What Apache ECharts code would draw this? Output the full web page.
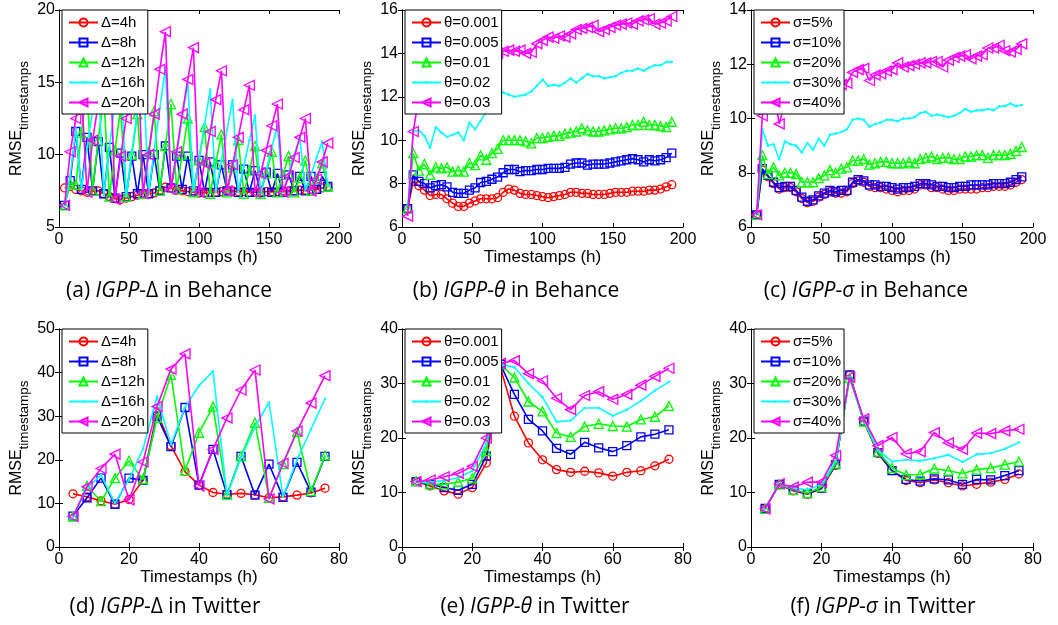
<!DOCTYPE html>
<html>
<head>
<meta charset="utf-8">
<script src="https://cdn.jsdelivr.net/npm/echarts@6/dist/echarts.min.js"></script>
<style>
  html, body { margin: 0; padding: 0; background: #fff; }
  #chart { width: 1058px; height: 625px; }
</style>
</head>
<body>
<div id="chart"></div>
<script>
// timestamps (h)
const tsBehance = [4, 8, 12, 16, 20, 24, 28, 32, 36, 40, 44, 48, 52, 56, 60, 64, 68, 72, 76, 80, 84, 88, 92, 96,
  100, 104, 108, 112, 116, 120, 124, 128, 132, 136, 140, 144, 148, 152, 156, 160, 164, 168, 172, 176, 180, 184, 188, 192];
const tsTwitter = [4, 8, 12, 16, 20, 24, 28, 32, 36, 40, 44, 48, 52, 56, 60, 64, 68, 72, 76];

const deltaNames = ["Δ=4h", "Δ=8h", "Δ=12h", "Δ=16h", "Δ=20h"];
const thetaNames = ["θ=0.001", "θ=0.005", "θ=0.01", "θ=0.02", "θ=0.03"];
const sigmaNames = ["σ=5%", "σ=10%", "σ=20%", "σ=30%", "σ=40%"];

// (a) IGPP-Δ in Behance
const behanceDelta4 = [7.7, 7.8, 7.6, 7.5, 7.4, 7.5, 7.5, 7.3, 7.1, 6.95, 6.9, 7.0, 7.1, 7.2, 7.3, 7.3, 7.35, 7.55, 7.75, 7.7, 7.55, 7.5, 7.45, 7.4,
  7.35, 7.35, 7.4, 7.4, 7.45, 7.5, 7.5, 7.45, 7.45, 7.4, 7.4, 7.4, 7.45, 7.45, 7.45, 7.5, 7.5, 7.5, 7.55, 7.55, 7.6, 7.6, 7.7, 7.75];
const behanceDelta8 = [6.5, 8.2, 11.6, 7.6, 11.2, 7.5, 10.9, 7.3, 10.5, 7.0, 10.1, 7.1, 9.9, 7.3, 10.0, 7.3, 10.0, 7.5, 10.6, 7.7, 9.9, 7.6, 9.9, 7.5,
  9.6, 7.4, 9.5, 7.4, 9.3, 7.5, 9.3, 7.4, 9.0, 7.4, 8.9, 7.4, 8.8, 7.4, 8.7, 7.4, 8.6, 7.5, 8.5, 7.5, 8.5, 7.6, 8.5, 7.8];
const behanceDelta12 = [6.5, 8.0, 7.9, 11.5, 14.5, 7.5, 11.0, 14.0, 7.1, 10.3, 13.2, 7.1, 10.0, 12.8, 7.3, 10.2, 13.0, 7.5, 10.6, 13.5, 7.6, 10.0, 12.5, 7.4,
  9.6, 11.9, 7.3, 9.4, 11.4, 7.4, 9.1, 11.0, 7.3, 8.9, 10.6, 7.3, 8.7, 10.2, 7.4, 8.6, 9.9, 7.4, 8.4, 9.6, 7.5, 8.3, 9.4, 7.8];
const behanceDelta16 = [6.5, 8.5, 11.8, 7.6, 10.5, 13.0, 15.5, 7.2, 10.5, 13.5, 16.5, 7.1, 10.2, 13.0, 16.0, 7.3, 10.3, 13.2, 16.0, 7.7, 10.0, 12.5, 15.0, 7.5,
  9.8, 12.1, 14.5, 7.4, 9.6, 11.7, 13.8, 7.4, 9.2, 11.0, 12.7, 7.3, 8.9, 10.5, 12.0, 7.4, 8.7, 10.0, 11.2, 7.5, 8.6, 9.8, 10.9, 7.8];
const behanceDelta20 = [6.5, 10.2, 12.5, 14.5, 7.4, 11.0, 13.5, 16.0, 18.0, 6.9, 9.9, 12.5, 15.0, 17.5, 7.3, 10.0, 12.8, 15.9, 18.5, 7.6, 10.2, 12.8, 15.2, 17.4,
  7.4, 9.4, 11.6, 13.8, 15.8, 7.5, 9.3, 11.2, 13.1, 14.8, 7.4, 8.7, 10.3, 12.0, 13.5, 7.4, 8.5, 9.8, 11.2, 12.5, 7.5, 8.3, 9.5, 10.8];

// (b) IGPP-θ in Behance
const behanceTheta001 = [6.85, 8.1, 7.9, 7.7, 7.45, 7.5, 7.5, 7.3, 7.1, 6.95, 6.95, 7.1, 7.2, 7.3, 7.3, 7.3, 7.35, 7.6, 7.75, 7.7, 7.55, 7.5, 7.5, 7.45,
  7.4, 7.35, 7.4, 7.45, 7.5, 7.6, 7.6, 7.55, 7.55, 7.5, 7.5, 7.5, 7.55, 7.6, 7.6, 7.6, 7.65, 7.65, 7.65, 7.7, 7.7, 7.75, 7.85, 7.95];
const behanceTheta005 = [6.85, 8.4, 8.1, 8.0, 7.8, 7.9, 7.95, 7.85, 7.6, 7.55, 7.55, 7.7, 7.8, 8.05, 8.1, 8.2, 8.3, 8.5, 8.65, 8.65, 8.55, 8.6, 8.6, 8.65,
  8.65, 8.7, 8.7, 8.7, 8.75, 8.9, 8.95, 8.95, 8.85, 8.9, 8.9, 8.9, 8.95, 9.0, 9.05, 9.1, 9.15, 9.1, 9.0, 9.1, 9.05, 9.1, 9.2, 9.4];
const behanceTheta01 = [6.85, 9.4, 8.6, 8.9, 8.4, 8.75, 8.7, 8.75, 8.55, 8.6, 8.55, 8.95, 8.85, 9.3, 9.1, 9.4, 9.6, 10.0, 10.0, 10.0, 10.0, 9.95, 9.85, 10.1,
  10.1, 10.15, 10.2, 10.2, 10.3, 10.35, 10.4, 10.55, 10.45, 10.4, 10.4, 10.45, 10.5, 10.55, 10.55, 10.6, 10.7, 10.7, 10.85, 10.7, 10.7, 10.65, 10.6, 10.85];
const behanceTheta02 = [6.8, 10.4, 10.45, 10.2, 9.65, 10.6, 10.35, 10.15, 10.25, 10.35, 10.0, 10.8, 10.5, 10.9, 11.3, 11.7, 12.1, 12.2, 12.1, 12.0, 12.05, 12.1, 12.25, 12.5,
  12.8, 12.5, 12.55, 12.5, 12.65, 12.85, 12.65, 12.85, 13.05, 12.95, 12.95, 12.85, 12.9, 12.95, 13.1, 13.2, 13.2, 13.3, 13.2, 13.35, 13.45, 13.45, 13.6, 13.6];
const behanceTheta03 = [6.5, 10.4, 12.0, 12.8, 13.3, 13.5, 13.6, 13.7, 13.8, 13.9, 13.9, 14.0, 14.0, 14.05, 14.1, 14.1, 14.0, 14.1, 14.15, 14.1, 14.15, 14.0, 14.05, 14.45,
  14.6, 14.75, 14.7, 14.8, 14.75, 14.9, 15.1, 15.15, 15.2, 15.3, 15.0, 15.1, 15.2, 15.3, 15.35, 15.4, 15.35, 15.5, 15.55, 15.6, 15.35, 15.4, 15.5, 15.7];

// (c) IGPP-σ in Behance
const behanceSigma5 = [6.45, 8.1, 7.85, 7.6, 7.4, 7.45, 7.45, 7.3, 7.05, 6.9, 6.95, 7.1, 7.2, 7.3, 7.25, 7.25, 7.3, 7.6, 7.7, 7.65, 7.5, 7.45, 7.45, 7.4,
  7.35, 7.3, 7.35, 7.35, 7.4, 7.55, 7.55, 7.45, 7.45, 7.4, 7.35, 7.35, 7.4, 7.4, 7.4, 7.4, 7.45, 7.45, 7.5, 7.5, 7.5, 7.55, 7.65, 7.75];
const behanceSigma10 = [6.45, 8.15, 7.9, 7.65, 7.45, 7.5, 7.5, 7.35, 7.1, 6.95, 7.0, 7.15, 7.25, 7.35, 7.3, 7.35, 7.35, 7.65, 7.75, 7.7, 7.55, 7.55, 7.5, 7.5,
  7.45, 7.4, 7.45, 7.45, 7.5, 7.6, 7.6, 7.55, 7.5, 7.5, 7.45, 7.45, 7.5, 7.5, 7.55, 7.55, 7.55, 7.55, 7.6, 7.6, 7.6, 7.65, 7.75, 7.85];
const behanceSigma20 = [6.45, 8.65, 7.95, 8.2, 7.9, 8.0, 8.0, 7.95, 7.65, 7.65, 7.65, 7.8, 7.9, 8.1, 8.0, 8.15, 8.2, 8.45, 8.45, 8.5, 8.3, 8.35, 8.4, 8.4,
  8.35, 8.35, 8.35, 8.4, 8.35, 8.5, 8.55, 8.6, 8.5, 8.55, 8.55, 8.5, 8.5, 8.6, 8.6, 8.65, 8.65, 8.55, 8.65, 8.65, 8.65, 8.7, 8.8, 8.95];
const behanceSigma30 = [6.45, 9.6, 9.0, 9.05, 8.5, 9.15, 9.05, 9.0, 8.75, 9.1, 8.85, 9.25, 9.0, 9.4, 9.45, 9.5, 9.6, 9.95, 10.0, 9.95, 9.7, 9.8, 9.85, 9.95,
  9.95, 9.9, 10.0, 10.0, 10.05, 10.2, 10.25, 10.1, 10.15, 10.1, 10.05, 10.1, 10.2, 10.35, 10.25, 10.3, 10.3, 10.35, 10.3, 10.45, 10.45, 10.55, 10.45, 10.5];
const behanceSigma40 = [6.45, 10.1, 10.6, 11.1, 9.8, 10.6, 10.8, 10.9, 10.7, 11.0, 10.9, 11.2, 11.1, 11.3, 11.1, 11.25, 11.3, 11.7, 11.8, 11.85, 11.4, 11.6, 11.65, 11.75,
  11.8, 12.05, 11.9, 11.95, 12.0, 12.05, 12.05, 12.1, 12.1, 11.9, 12.15, 12.25, 12.3, 12.35, 12.2, 12.3, 12.35, 12.6, 12.6, 12.7, 12.5, 12.45, 12.55, 12.75];

// (d) IGPP-Δ in Twitter
const twitterDelta4 = [12.2, 11.5, 10.6, 9.8, 10.9, 15.3, 31.0, 23.2, 17.3, 14.2, 12.5, 12.1, 12.3, 12.0, 11.3, 11.5, 11.9, 12.4, 13.5];
const twitterDelta8 = [7.1, 11.3, 15.8, 9.8, 15.8, 15.3, 30.0, 23.0, 32.0, 14.2, 22.4, 12.0, 20.8, 11.9, 19.0, 11.4, 19.4, 12.6, 20.8];
const twitterDelta12 = [7.0, 14.0, 10.5, 15.8, 19.8, 15.5, 29.6, 39.5, 17.5, 26.2, 32.2, 12.0, 20.8, 28.5, 11.3, 19.0, 26.4, 12.8, 21.0];
const twitterDelta16 = [7.0, 13.5, 16.5, 10.0, 15.5, 22.5, 34.5, 23.5, 32.0, 37.0, 40.3, 11.8, 20.5, 27.5, 33.2, 11.5, 20.0, 27.0, 34.0];
const twitterDelta20 = [7.0, 13.8, 18.0, 21.3, 10.8, 19.5, 32.2, 40.8, 44.3, 14.0, 22.4, 29.6, 36.0, 40.6, 11.0, 19.2, 26.6, 33.0, 39.3];

// (e) IGPP-θ in Twitter
const twitterTheta001 = [12.0, 11.2, 10.3, 9.7, 10.9, 15.4, 33.0, 24.0, 19.1, 16.0, 14.2, 13.7, 13.9, 13.6, 13.0, 13.7, 14.0, 14.9, 16.1];
const twitterTheta005 = [12.0, 11.5, 10.9, 10.4, 11.5, 16.7, 33.5, 28.0, 23.4, 21.3, 18.1, 17.0, 19.2, 18.2, 17.5, 18.6, 20.2, 20.7, 21.5];
const twitterTheta01 = [12.1, 11.5, 11.5, 11.9, 12.6, 17.6, 33.5, 31.1, 26.7, 24.9, 20.9, 20.2, 22.1, 22.6, 22.2, 22.1, 23.4, 23.9, 25.9];
const twitterTheta02 = [12.0, 11.9, 12.2, 12.7, 14.0, 19.0, 33.5, 33.0, 30.0, 27.5, 23.0, 23.2, 25.5, 25.5, 24.1, 25.2, 26.8, 28.7, 30.3];
const twitterTheta03 = [12.0, 12.3, 12.9, 13.5, 14.8, 20.0, 33.7, 34.2, 31.8, 30.5, 27.3, 25.2, 27.8, 28.5, 27.1, 28.0, 29.7, 31.3, 32.8];

// (f) IGPP-σ in Twitter
const twitterSigma5 = [7.0, 11.4, 10.3, 9.7, 10.7, 15.0, 31.5, 23.0, 17.2, 14.0, 12.2, 11.8, 12.3, 11.8, 11.2, 11.5, 11.9, 12.4, 13.4];
const twitterSigma10 = [7.1, 11.5, 10.4, 9.8, 10.8, 15.1, 31.6, 23.1, 17.3, 14.0, 12.4, 12.1, 12.5, 12.3, 11.5, 12.4, 12.3, 13.1, 14.0];
const twitterSigma20 = [7.0, 11.5, 10.5, 9.9, 11.0, 15.3, 31.0, 23.0, 17.5, 14.5, 13.2, 13.3, 14.4, 14.0, 13.5, 14.2, 14.5, 15.1, 15.7];
const twitterSigma30 = [7.0, 11.6, 10.8, 10.5, 11.5, 15.8, 31.2, 23.3, 17.8, 15.7, 16.0, 15.8, 16.3, 16.9, 15.6, 17.0, 17.2, 18.0, 19.2];
const twitterSigma40 = [7.0, 11.6, 11.0, 11.9, 11.9, 16.8, 31.2, 23.5, 18.6, 20.1, 17.1, 17.5, 21.0, 19.1, 17.9, 20.9, 20.8, 21.3, 21.6];

// axis ranges per panel [min, max, step]
const xRanges = [[0, 200, 50], [0, 200, 50], [0, 200, 50], [0, 80, 20], [0, 80, 20], [0, 80, 20]];
const yRanges = [[5, 20, 5], [6, 16, 2], [6, 14, 2], [0, 50, 10], [0, 40, 10], [0, 40, 10]];

const panels = [
  { xs: tsBehance, names: deltaNames, ys: [behanceDelta4, behanceDelta8, behanceDelta12, behanceDelta16, behanceDelta20] },
  { xs: tsBehance, names: thetaNames, ys: [behanceTheta001, behanceTheta005, behanceTheta01, behanceTheta02, behanceTheta03] },
  { xs: tsBehance, names: sigmaNames, ys: [behanceSigma5, behanceSigma10, behanceSigma20, behanceSigma30, behanceSigma40] },
  { xs: tsTwitter, names: deltaNames, ys: [twitterDelta4, twitterDelta8, twitterDelta12, twitterDelta16, twitterDelta20] },
  { xs: tsTwitter, names: thetaNames, ys: [twitterTheta001, twitterTheta005, twitterTheta01, twitterTheta02, twitterTheta03] },
  { xs: tsTwitter, names: sigmaNames, ys: [twitterSigma5, twitterSigma10, twitterSigma20, twitterSigma30, twitterSigma40] },
];

const grids = [
  { left: 59, top: 10, width: 280, height: 217 },
  { left: 402, top: 10, width: 281, height: 217 },
  { left: 751, top: 10, width: 282, height: 217 },
  { left: 59, top: 329, width: 280, height: 218 },
  { left: 402, top: 329, width: 281, height: 218 },
  { left: 751, top: 329, width: 282, height: 218 },
];

const captions = [
  { x: 169, y: 291, tag: "(a) ", sym: "-Δ", sym2: "", where: " in Behance" },
  { x: 516, y: 291, tag: "(b) ", sym: "-", sym2: "θ", where: " in Behance" },
  { x: 866, y: 291, tag: "(c) ", sym: "-", sym2: "σ", where: " in Behance" },
  { x: 165, y: 607, tag: "(d) ", sym: "-Δ", sym2: "", where: " in Twitter" },
  { x: 535, y: 607, tag: "(e) ", sym: "-", sym2: "θ", where: " in Twitter" },
  { x: 883, y: 607, tag: "(f) ", sym: "-", sym2: "σ", where: " in Twitter" },
];

const colors = ["#ff0000", "#0000ff", "#00ff00", "#00ffff", "#ff00ff"];
// cyan uses a small dot centred in an empty 10x10 box, so the legend icon stays small too
const dotPath = "path://M0,0M10,10M3.4,5A1.6,1.6,0,1,1,6.6,5A1.6,1.6,0,1,1,3.4,5Z";
const markers = ["circle", "rect", "triangle", dotPath, "triangle"];
const markerSizes = [8, 8, 9, 8, 10];
const markerRotate = [0, 0, 0, 0, 90];

const font = "Arial, 'Liberation Sans', Helvetica, sans-serif";
const capFont = "'Open Sans', sans-serif";

const xAxes = [], yAxes = [], series = [], legends = [];

panels.forEach((p, i) => {
  const [xmin, xmax, xstep] = xRanges[i];
  const [ymin, ymax, ystep] = yRanges[i];
  const axisLine = { show: true, lineStyle: { color: "#000", width: 1 } };
  const tick = { show: true, inside: true, length: 4, lineStyle: { color: "#000" } };
  xAxes.push({
    type: "value", gridIndex: i, min: xmin, max: xmax, interval: xstep,
    axisLine: axisLine, axisTick: tick, splitLine: { show: false },
    axisLabel: { color: "#000", fontSize: 16, fontFamily: font, margin: 5 },
    name: "Timestamps (h)", nameLocation: "middle", nameGap: 22,
    nameTextStyle: { color: "#000", fontSize: 17, fontFamily: font, verticalAlign: "top" },
  });
  xAxes.push({
    type: "value", gridIndex: i, position: "top", min: xmin, max: xmax, interval: xstep,
    axisLine: axisLine, axisTick: tick, splitLine: { show: false }, axisLabel: { show: false },
  });
  yAxes.push({
    type: "value", gridIndex: i, min: ymin, max: ymax, interval: ystep,
    axisLine: axisLine, axisTick: tick, splitLine: { show: false },
    axisLabel: { color: "#000", fontSize: 16, fontFamily: font, margin: 4 },
    name: "{m|RMSE}{s|timestamps}", nameLocation: "middle", nameGap: 28, nameRotate: 90,
    nameTextStyle: {
      color: "#000", fontFamily: font,
      rich: {
        m: { fontSize: 16, fontFamily: font, color: "#000", lineHeight: 28, verticalAlign: "middle" },
        s: { fontSize: 13.5, fontFamily: font, color: "#000", lineHeight: 28, verticalAlign: "bottom" },
      },
    },
  });
  yAxes.push({
    type: "value", gridIndex: i, position: "right", min: ymin, max: ymax, interval: ystep,
    axisLine: axisLine, axisTick: tick, splitLine: { show: false }, axisLabel: { show: false },
  });

  p.names.forEach((name, k) => {
    const hollow = k !== 3;
    series.push({
      type: "line", name: name,
      xAxisIndex: i * 2, yAxisIndex: i * 2,
      data: p.xs.map((x, j) => [x, p.ys[k][j]]),
      symbol: markers[k], symbolSize: markerSizes[k], symbolRotate: markerRotate[k],
      showAllSymbol: true,
      lineStyle: { color: colors[k], width: 1.6 },
      itemStyle: hollow
        ? { color: "rgba(255,255,255,0)", borderColor: colors[k], borderWidth: 1.3 }
        : { color: colors[k], borderColor: colors[k], borderWidth: 0 },
      emphasis: { disabled: true },
      z: 2 + k,
    });
  });

  legends.push({
    data: p.names, orient: "vertical",
    left: grids[i].left + 3, top: grids[i].top,
    itemWidth: 29, itemHeight: 10, itemGap: 5,
    padding: [5, 3, 4, 6],
    backgroundColor: "#fff", borderColor: "#000", borderWidth: 1, borderRadius: 0,
    selectedMode: false,
    textStyle: { color: "#000", fontSize: 15, fontFamily: font, padding: [0, 0, 0, -2] },
    z: 10,
  });
});

const chart = echarts.init(document.getElementById("chart"), null, { renderer: "canvas" });
chart.setOption({
  animation: false,
  backgroundColor: "#fff",
  grid: grids,
  xAxis: xAxes,
  yAxis: yAxes,
  legend: legends,
  series: series,
  graphic: captions.map((c) => ({
    type: "text", x: c.x, y: c.y,
    style: {
      text: "{n|" + c.tag + "}{i|IGPP}{n|" + c.sym + "}{i|" + c.sym2 + "}{n|" + c.where + "}",
      rich: {
        n: { fontSize: 21, fontFamily: capFont, fill: "#000" },
        i: { fontSize: 21, fontFamily: capFont, fontStyle: "italic", fill: "#000" },
      },
      align: "center", verticalAlign: "middle",
    },
  })),
});
</script>
</body>
</html>
